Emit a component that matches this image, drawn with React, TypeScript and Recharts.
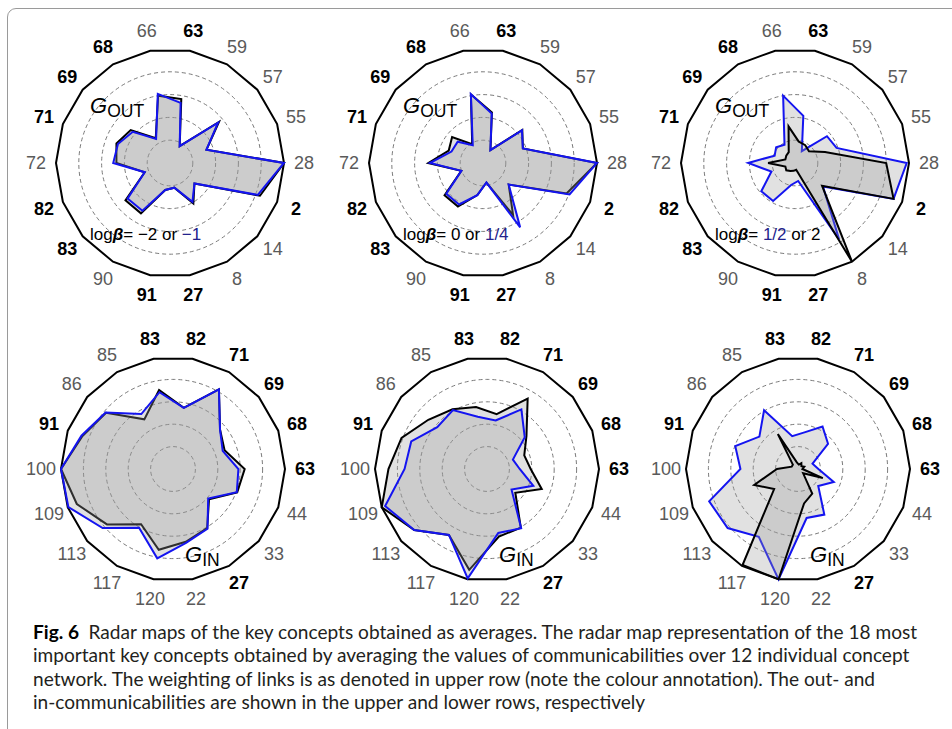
import React from 'react';
import { RadarChart, Radar, PolarGrid, PolarAngleAxis, PolarRadiusAxis } from 'recharts';

// concept ids round the radar, clockwise from the one just right of the top
const topConcepts = ['63', '59', '57', '55', '28', '2', '14', '8', '27', '91', '90', '83', '82', '72', '71', '69', '68', '66'];
const bottomConcepts = ['82', '71', '69', '68', '63', '44', '33', '27', '22', '120', '117', '113', '109', '100', '91', '86', '85', '83'];

// ids printed in bold
const topBold = ['63', '68', '69', '71', '82', '83', '91', '27', '2'];
const bottomBold = ['83', '82', '71', '69', '68', '63', '27', '91'];

// G_OUT, values in grid rings (0..5)
const outBlackA = [2.85, 0.85, 2.8, 1.7, 5.0, 4.2, 1.4, 2.05, 1.1, 1.2, 2.55, 2.55, 1.18, 2.35, 2.5, 2.25, 1.25, 3.0];
const outBlueA = [2.68, 0.85, 2.75, 1.7, 5.0, 4.1, 1.4, 1.97, 1.1, 1.2, 2.42, 2.43, 1.18, 2.49, 2.43, 2.13, 1.22, 3.08];
const outBlackB = [2.25, 0.65, 2.25, 1.86, 5.0, 3.9, 1.47, 2.64, 0.87, 1.43, 2.2, 2.2, 1.01, 2.4, 1.6, 1.77, 0.95, 3.05];
const outBlueB = [2.2, 0.65, 2.23, 1.86, 5.0, 4.04, 1.47, 3.26, 0.87, 1.43, 2.1, 2.1, 1.01, 2.33, 1.47, 1.45, 0.9, 3.07];
const outBlackC = [0.95, 0.9, 0.8, 1.4, 4.0, 4.6, 1.55, 5.0, 0.3, 0.35, 0.4, 0.5, 0.45, 1.18, 0.45, 0.5, 0.55, 1.63];
const outBlueC = [2.1, 0.6, 1.83, 1.94, 4.9, 4.6, 1.6, 3.87, 0.8, 0.98, 1.92, 1.93, 1.1, 2.05, 0.95, 1.08, 0.92, 3.0];

// G_IN
const inBlackA = [2.77, 4.1, 2.74, 2.45, 3.2, 3.05, 2.1, 3.05, 3.3, 3.66, 2.85, 3.85, 4.57, 5.0, 4.3, 3.9, 2.56, 3.58];
const inBlueA = [2.77, 4.1, 2.74, 2.36, 2.92, 3.03, 2.05, 3.08, 3.35, 4.05, 3.03, 4.1, 4.97, 5.0, 4.35, 3.93, 2.83, 3.48];
const inBlackB = [2.49, 3.63, 2.3, 1.77, 1.95, 2.6, 1.65, 3.02, 3.06, 4.57, 3.4, 4.24, 5.0, 4.4, 4.06, 3.42, 3.08, 2.81];
const inBlueB = [2.2, 3.07, 2.2, 1.23, 1.46, 2.2, 1.43, 3.05, 2.9, 4.96, 3.4, 4.24, 4.84, 3.68, 3.6, 2.9, 3.04, 2.37];
const inBlackC = [0.2, 0.3, 0.2, 0.3, 0.2, 1.18, 0.3, 1.27, 1.56, 5.0, 4.95, 1.39, 2.08, 0.94, 0.3, 0.3, 1.8, 0.3];
const inBlueC = [1.66, 2.19, 1.75, 0.69, 0.91, 1.7, 1.18, 2.35, 2.22, 5.0, 3.5, 4.1, 4.22, 2.57, 2.98, 2.25, 3.03, 1.49];

const BLUE = '#1414f0';
const LABEL_BLUE = '#22228c';
const FONT = 'Liberation Sans, Arial, sans-serif';

type PanelProps = {
  concepts: string[];
  bold: string[];
  black: number[];
  blue: number[];
  cx: number;
  cy: number;
  R: number;
  blackOnTop?: boolean;
};

const RadarPanel = ({ concepts, bold, black, blue, cx, cy, R, blackOnTop }: PanelProps) => {
  const data = concepts.map((c, i) => ({ name: c, black: black[i], blue: blue[i] }));
  const size = 300;
  const c = size / 2;

  const renderTick = (props: any) => {
    const { payload } = props;
    const ang = (payload.coordinate * Math.PI) / 180;
    const x = c + (R + 20) * Math.cos(ang);
    const y = c - (R + 20) * Math.sin(ang);
    const isBold = bold.includes(payload.value);
    return (
      <text
        x={x}
        y={y}
        textAnchor="middle"
        dominantBaseline="central"
        fontFamily={FONT}
        fontSize={18}
        fontWeight={isBold ? 700 : 400}
        fill={isBold ? '#000' : '#5a5a5a'}
      >
        {payload.value}
      </text>
    );
  };

  const blackRadar = (
    <Radar key="black" dataKey="black" stroke="#000" strokeWidth={2} fill="#9a9a9a" fillOpacity={0.3} dot={false} isAnimationActive={false} />
  );
  const blueRadar = (
    <Radar key="blue" dataKey="blue" stroke={BLUE} strokeWidth={2} fill="#9a9a9a" fillOpacity={0.3} dot={false} isAnimationActive={false} />
  );

  return (
    <div style={{ position: 'absolute', left: cx - c, top: cy - c }}>
      <RadarChart
        width={size}
        height={size}
        data={data}
        cx={c}
        cy={c}
        outerRadius={R}
        startAngle={80}
        endAngle={-280}
        margin={{ top: 0, right: 0, bottom: 0, left: 0 }}
      >
        <PolarGrid
          gridType="circle"
          radialLines={false}
          polarRadius={[1, 2, 3, 4].map((k) => (R * k) / 5)}
          stroke="#7a7a7a"
          strokeDasharray="4 3"
        />
        <PolarGrid gridType="polygon" radialLines={false} polarRadius={[R]} stroke="#000" strokeWidth={2} />
        <PolarAngleAxis dataKey="name" tick={renderTick} tickLine={false} axisLine={false} />
        <PolarRadiusAxis domain={[0, 5]} tick={false} axisLine={false} tickCount={6} />
        {blackOnTop ? [blueRadar, blackRadar] : [blackRadar, blueRadar]}
      </RadarChart>
    </div>
  );
};

const topY = 163;
const botY = 469;
const topX = [170, 483, 795];
const botX = [173, 487, 798];
const betaLeft = ['\u22122', '0', '2'];
const betaBlue = ['\u22121', '1/4', '1/2'];

export default function App() {
  return (
    <div style={{ position: 'absolute', left: 0, top: 0, width: 952, height: 729, overflow: 'hidden', background: '#fff' }}>
      <div
        style={{
          position: 'absolute',
          left: 7,
          top: 8,
          width: 1000,
          height: 800,
          border: '1.5px solid #9a9a9a',
          borderRadius: 9,
        }}
      />
      <RadarPanel concepts={topConcepts} bold={topBold} black={outBlackA} blue={outBlueA} cx={topX[0]} cy={topY} R={114} />
      <RadarPanel concepts={topConcepts} bold={topBold} black={outBlackB} blue={outBlueB} cx={topX[1]} cy={topY} R={114} />
      <RadarPanel concepts={topConcepts} bold={topBold} black={outBlackC} blue={outBlueC} cx={topX[2]} cy={topY} R={114} blackOnTop />
      <RadarPanel concepts={bottomConcepts} bold={bottomBold} black={inBlackA} blue={inBlueA} cx={botX[0]} cy={botY} R={112} />
      <RadarPanel concepts={bottomConcepts} bold={bottomBold} black={inBlackB} blue={inBlueB} cx={botX[1]} cy={botY} R={112} />
      <RadarPanel concepts={bottomConcepts} bold={bottomBold} black={inBlackC} blue={inBlueC} cx={botX[2]} cy={botY} R={112} blackOnTop />

      <svg width={952} height={729} style={{ position: 'absolute', left: 0, top: 0, pointerEvents: 'none' }}>
        {topX.map((x, i) => (
          <g key={'out' + i} fontFamily={FONT}>
            <text x={x - 80} y={topY - 50} fontSize={22} fill="#000">
              <tspan fontStyle="italic">G</tspan>
              <tspan fontSize={17.5} dy={4}>OUT</tspan>
            </text>
            <text x={x - 80} y={topY + 77} fontSize={17} fill="#000">
              <tspan>log</tspan>
              <tspan fontWeight={700} fontStyle="italic">β</tspan>
              <tspan>{'= '}</tspan>
              {i === 2 ? (
                <>
                  <tspan fill={LABEL_BLUE}>{betaBlue[i]}</tspan>
                  <tspan>{' or ' + betaLeft[i]}</tspan>
                </>
              ) : (
                <>
                  <tspan>{betaLeft[i] + ' or '}</tspan>
                  <tspan fill={LABEL_BLUE}>{betaBlue[i]}</tspan>
                </>
              )}
            </text>
          </g>
        ))}
        {botX.map((x, i) => (
          <text key={'in' + i} x={x + 12} y={botY + 93} fontSize={22} fill="#000" fontFamily={FONT}>
            <tspan fontStyle="italic">G</tspan>
            <tspan fontSize={17.5} dy={4}>IN</tspan>
          </text>
        ))}
      </svg>

      <div
        style={{
          position: 'absolute',
          left: 33,
          top: 620,
          fontFamily: 'Lato, "Open Sans", sans-serif',
          fontSize: 19.1,
          lineHeight: '23.3px',
          color: '#231f20',
          whiteSpace: 'nowrap',
        }}
      >
        <div>
          <b style={{ color: '#000' }}>Fig. 6</b>{'\u2002'}Radar maps of the key concepts obtained as averages. The radar map representation of the 18 most
        </div>
        <div>important key concepts obtained by averaging the values of communicabilities over 12 individual concept</div>
        <div>network. The weighting of links is as denoted in upper row (note the colour annotation). The out- and</div>
        <div>in-communicabilities are shown in the upper and lower rows, respectively</div>
      </div>
    </div>
  );
}
